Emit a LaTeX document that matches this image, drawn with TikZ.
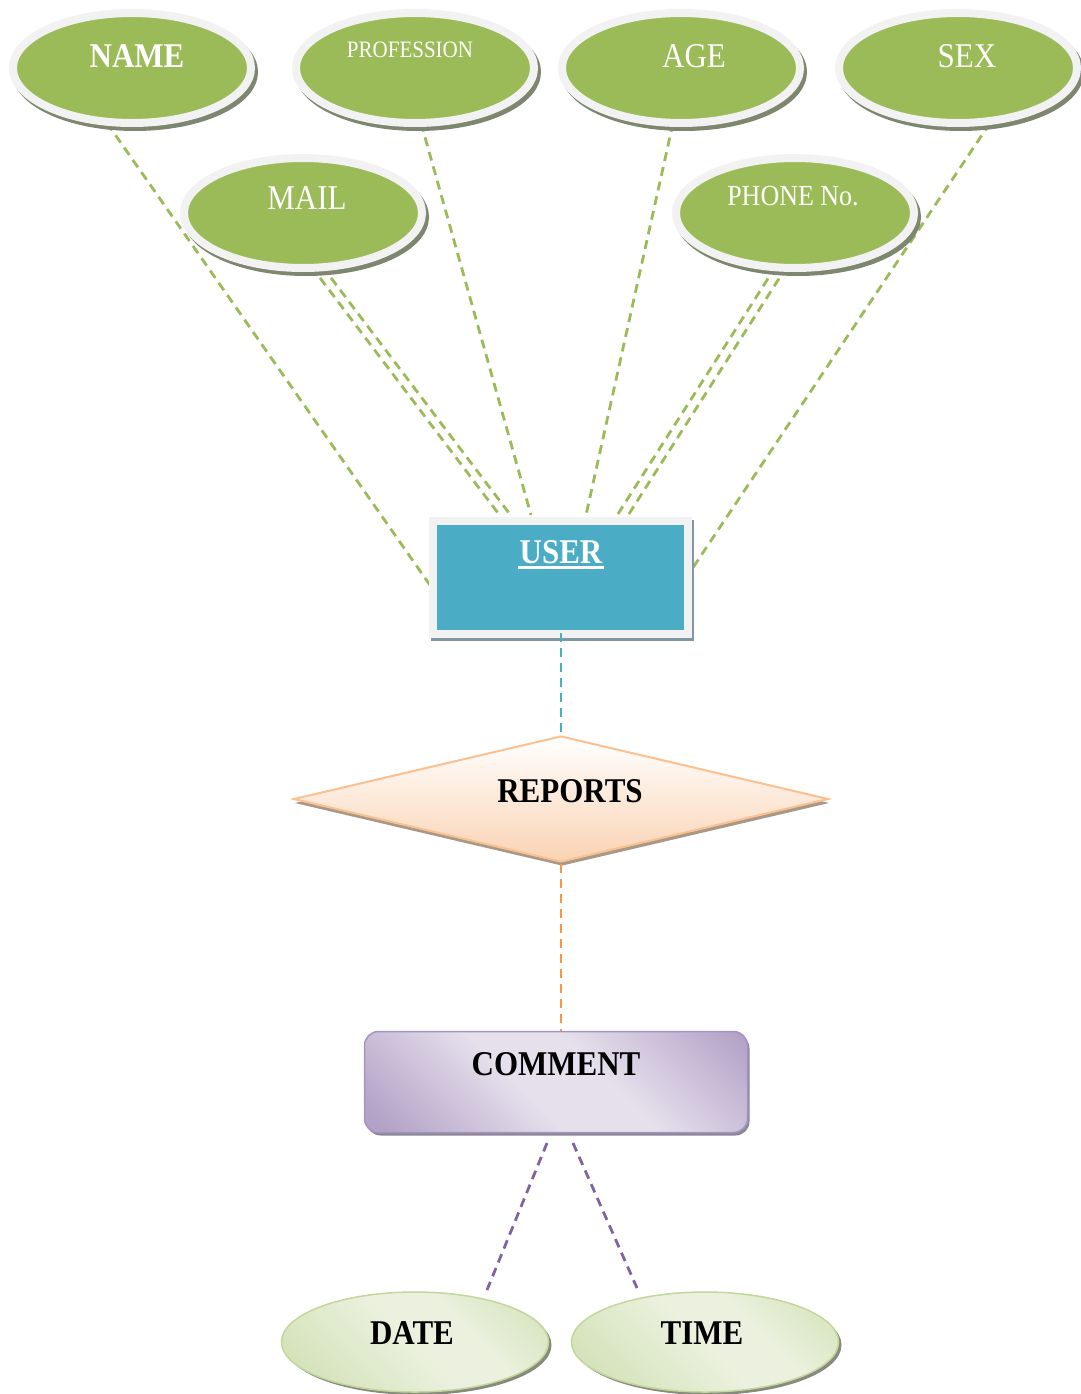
\documentclass[tikz,border=0pt]{standalone}
\usepackage{fontspec}
\usepackage{graphicx}
\setmainfont{Liberation Serif}
\usetikzlibrary{shapes.geometric,calc}
\definecolor{attrgreen}{HTML}{9BBB59}
\definecolor{ringgray}{HTML}{F2F2F2}
\definecolor{attrshadow}{HTML}{7E8670}
\definecolor{userblue}{HTML}{4BACC6}
\definecolor{usershadow}{HTML}{7F97A3}
\definecolor{repborder}{HTML}{FAC090}
\definecolor{repfill}{HTML}{FAD3B3}
\definecolor{repshadow}{HTML}{A89888}
\definecolor{cmtdark}{HTML}{B3A2C7}
\definecolor{cmtlight}{HTML}{E5E0EC}
\definecolor{cmtborder}{HTML}{A594C2}
\definecolor{cmtshadow}{HTML}{8C8796}
\definecolor{dtdark}{HTML}{D2E1B6}
\definecolor{dtlight}{HTML}{EBF1DE}
\definecolor{dtborder}{HTML}{C3D69B}
\definecolor{dtshadow}{HTML}{868B7E}
\definecolor{lineorange}{HTML}{F79646}
\definecolor{linepurple}{HTML}{8064A2}
\pgfdeclarehorizontalshading{cmtshade}{100bp}{color(0bp)=(cmtdark); color(18bp)=(cmtdark); color(44bp)=(cmtlight); color(58bp)=(cmtlight); color(84bp)=(cmtdark); color(100bp)=(cmtdark)}
\pgfdeclarehorizontalshading{dtshade}{100bp}{color(0bp)=(dtdark); color(20bp)=(dtdark); color(50bp)=(dtlight); color(62bp)=(dtlight); color(85bp)=(dtdark); color(100bp)=(dtdark)}
\newcommand{\vst}[1]{\scalebox{1}[1.12]{#1}}
\begin{document}
\begin{tikzpicture}[x=1pt,y=-1pt,
  attr/.style={ellipse, fill=attrgreen, draw=ringgray, line width=8pt, inner sep=0pt,
    minimum width=238pt, minimum height=110pt,
    preaction={draw=attrshadow, fill=attrshadow, line width=8pt, transform canvas={xshift=3pt,yshift=-4pt}}},
  attrtext/.style={text=white, inner sep=0pt},
  big/.style={font=\fontsize{31}{31}\selectfont},
  bigb/.style={font=\bfseries\fontsize{31}{31}\selectfont},
  blk/.style={text=black, inner sep=0pt, font=\bfseries\fontsize{31}{31}\selectfont},
  dline/.style={line width=2.8pt, dash pattern=on 9pt off 6pt},
  conn/.style={attrgreen, dline},
  dt/.style={ellipse, inner sep=0pt, minimum width=267pt, minimum height=100pt,
    draw=dtborder, line width=1.5pt, shading=dtshade, shading angle=45,
    preaction={fill=dtshadow, transform canvas={xshift=3pt,yshift=-3pt}}}
]
\useasboundingbox (0,0) rectangle (1080,1394);

% connector end points
\coordinate (cName1) at (107,123);   \coordinate (cName2) at (432,588);
\coordinate (cProf1) at (421,123);   \coordinate (cProf2) at (531,515);
\coordinate (cAge1)  at (673,123);   \coordinate (cAge2)  at (586,515);
\coordinate (cSex1)  at (990,123);   \coordinate (cSex2)  at (690,572);
\coordinate (cMailA1) at (311,266);  \coordinate (cMailA2) at (501,517);
\coordinate (cMailB1) at (322,266);  \coordinate (cMailB2) at (512,517);
\coordinate (cPhA1) at (776,266);    \coordinate (cPhA2) at (616,517);
\coordinate (cPhB1) at (787,266);    \coordinate (cPhB2) at (627,517);
\coordinate (cUser) at (561,633);    \coordinate (cRepTop) at (561,736);
\coordinate (cRepBot) at (561,864);  \coordinate (cCmtTop) at (561,1031);
\coordinate (cCmtL) at (547,1143);   \coordinate (cDate) at (487,1290);
\coordinate (cCmtR) at (573,1143);   \coordinate (cTime) at (637,1288);

% attribute connectors
\draw[conn] (cName1) -- (cName2);
\draw[conn] (cProf1) -- (cProf2);
\draw[conn] (cAge1) -- (cAge2);
\draw[conn] (cSex1) -- (cSex2);
\draw[conn] (cMailA1) -- (cMailA2);
\draw[conn] (cMailB1) -- (cMailB2);
\draw[conn] (cPhA1) -- (cPhA2);
\draw[conn] (cPhB1) -- (cPhB2);

% attribute ellipses
\node[attr] (name) at (132,68) {};
\node[attr] (prof) at (415,68) {};
\node[attr] (age)  at (681,68) {};
\node[attr] (sex)  at (958,68) {};
\node[attr] (mail) at (303,213) {};
\node[attr] (phone) at (795,213) {};

\node[attrtext, bigb] (nameT) at (137,56) {\vst{NAME}};
\node[attrtext, font=\fontsize{21}{21}\selectfont] (profT) at (410,50) {\vst{PROFESSION}};
\node[attrtext, big] (ageT) at (694,56) {\vst{AGE}};
\node[attrtext, big] (sexT) at (967,56) {\vst{SEX}};
\node[attrtext, big] (mailT) at (307,198) {\vst{MAIL}};
\node[attrtext, font=\fontsize{26}{26}\selectfont] (phoneT) at (793,196) {\vst{PHONE No.}};

% USER entity
\node[rectangle, fill=userblue, draw=ringgray, line width=8pt, inner sep=0pt,
  minimum width=255pt, minimum height=113pt,
  preaction={draw=usershadow, line width=8pt, transform canvas={xshift=2pt,yshift=-3pt}}]
  (user) at (560,577) {};
\node[attrtext, bigb] (userT) at (561,552) {\vst{USER}};
\fill[white] ($(userT.south west)+(-1,2)$) rectangle ($(userT.south east)+(1,5.5)$);

% REPORTS relationship
\node[diamond, aspect=4.25, inner sep=0pt, minimum width=535pt, minimum height=126pt,
  draw=repborder, line width=2pt, top color=white, bottom color=repfill,
  preaction={fill=repshadow, transform canvas={xshift=1pt,yshift=-4pt}}]
  (rep) at (561,799) {};
\node[blk] (repT) at (570,791) {\vst{REPORTS}};

% COMMENT entity
\node[rectangle, rounded corners=14pt, inner sep=0pt, minimum width=383pt, minimum height=101pt,
  draw=cmtborder, line width=1.5pt, shading=cmtshade, shading angle=45,
  preaction={fill=cmtshadow, transform canvas={xshift=2pt,yshift=-3pt}}]
  (cmt) at (556,1082) {};
\node[blk] (cmtT) at (556,1064) {\vst{COMMENT}};

% DATE / TIME
\node[dt] (date) at (415,1342) {};
\node[dt] (time) at (705,1342) {};
\node[blk] (dateT) at (412,1333) {\vst{DATE}};
\node[blk] (timeT) at (702,1333) {\vst{TIME}};

% other connectors
\draw[userblue, dline] (cUser) -- (cRepTop);
\draw[lineorange, dline] (cRepBot) -- (cCmtTop);
\draw[linepurple, dline] (cCmtL) -- (cDate);
\draw[linepurple, dline] (cCmtR) -- (cTime);
\end{tikzpicture}
\end{document}
